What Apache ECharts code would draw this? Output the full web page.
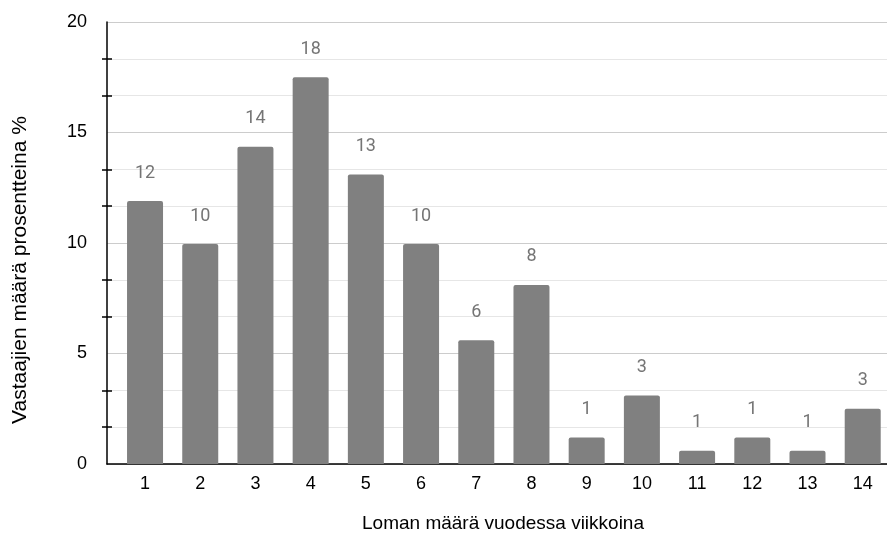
<!DOCTYPE html>
<html>
<head>
<meta charset="utf-8">
<script src="https://cdn.jsdelivr.net/npm/echarts@6/dist/echarts.min.js"></script>
<style>html,body{margin:0;padding:0;background:#fff}#c{width:887px;height:538px}</style>
</head>
<body>
<div id="c"></div>
<script>
const categories = [1, 2, 3, 4, 5, 6, 7, 8, 9, 10, 11, 12, 13, 14];
const values = [11.9, 9.95, 14.35, 17.5, 13.1, 9.95, 5.6, 8.1, 1.2, 3.1, 0.6, 1.2, 0.6, 2.5];
const yTicks = [0, 5, 10, 15, 20];
const xTitle = 'Loman määrä vuodessa viikkoina';
const yTitle = 'Vastaajien määrä prosentteina %';

const chart = echarts.init(document.getElementById('c'), null, {renderer: 'canvas'});
const FONT = 'Liberation Sans, Arial, sans-serif';
const axisFont = {fontFamily: FONT, fontSize: 18, color: '#000'};
const yBase = {
  type: 'value', min: yTicks[0], max: yTicks[yTicks.length - 1], interval: 5,
  position: 'left'
};
chart.setOption({
  animation: false,
  grid: {left: 107, right: 0, top: 22, bottom: 74, containLabel: false},
  graphic: [{
    type: 'text', x: 20, y: 270, rotation: Math.PI / 2,
    style: {text: yTitle, fontFamily: FONT, fontSize: 21, fill: '#000', align: 'center', verticalAlign: 'middle'}
  }],
  xAxis: {
    type: 'value', min: 0.311, max: 14.44,
    axisLine: {show: true, lineStyle: {color: '#000', width: 1.5}},
    axisTick: {show: false},
    splitLine: {show: false},
    axisLabel: Object.assign({customValues: categories, margin: 11}, axisFont),
    name: xTitle, nameLocation: 'middle', nameGap: 50,
    nameTextStyle: {fontFamily: FONT, fontSize: 19, color: '#000', padding: [0, 0, 0, 12]}
  },
  yAxis: [
    Object.assign({}, yBase, {
      axisLine: {show: true, lineStyle: {color: '#000', width: 1.5}},
      axisTick: {show: false},
      minorTick: {show: true, splitNumber: 3, length: 5, lineStyle: {color: '#000', width: 1.5}},
      splitLine: {show: true, lineStyle: {color: '#cccccc', width: 1}},
      minorSplitLine: {show: true, lineStyle: {color: '#e6e6e6', width: 1}},
      axisLabel: Object.assign({margin: 20}, axisFont)
    }),
    Object.assign({}, yBase, {
      axisLine: {show: false},
      axisTick: {show: false, inside: true},
      minorTick: {show: true, splitNumber: 3, length: 5, lineStyle: {color: '#000', width: 1.5}},
      splitLine: {show: false},
      axisLabel: {show: false}
    })
  ],
  series: [{
    type: 'bar',
    data: categories.map((c, i) => [c, values[i]]),
    barWidth: 36,
    itemStyle: {color: '#808080', borderRadius: [2, 2, 0, 0]},
    label: {
      show: true, position: 'top', distance: 19,
      formatter: p => Math.round(p.value[1]),
      color: '#757575', fontSize: 18, fontFamily: 'Roboto, sans-serif'
    }
  }]
});
</script>
</body>
</html>
